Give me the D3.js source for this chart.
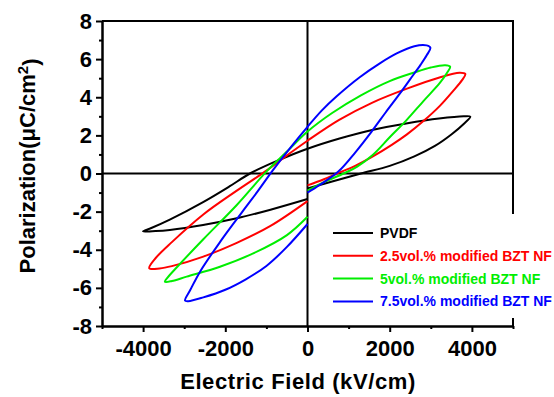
<!DOCTYPE html>
<html>
<head>
<meta charset="utf-8">
<script src="https://cdn.jsdelivr.net/npm/d3@7"></script>
<style>
  body { margin: 0; background: #fff; }
  svg { display: block; font-family: Arial, "Liberation Sans", sans-serif; }
  .tick text { font-weight: bold; font-size: 22px; fill: #000; }
  .axis path, .axis line { stroke: #000; stroke-width: 2px; }
  .title { font-weight: bold; font-size: 22px; fill: #000; }
  .legend text { font-weight: bold; font-size: 14px; }
</style>
</head>
<body>
<div id="chart"></div>
<script>
// axis ticks
const fieldTicks = [-4000, -2000, 0, 2000, 4000];
const fieldMinor = [-5000, -3000, -1000, 1000, 3000, 5000];
const polTicks = [-8, -6, -4, -2, 0, 2, 4, 6, 8];
const polMinor = [-7, -5, -3, -1, 1, 3, 5, 7];

// loops: [E (kV/cm), P (uC/cm2)]
// order: lower branch 0 -> +Emax, upper branch +Emax -> -Emax, lower branch -Emax -> 0
const pvdfLoop = [
  [0, -0.78], [600, -0.42], [1300, 0.0], [2000, 0.4], [2600, 0.9], [3100, 1.45], [3500, 2.05], [3800, 2.6], [3960, 2.98],
  [3800, 3.0], [3200, 2.88], [2400, 2.62], [1600, 2.3], [800, 1.85], [0, 1.3], [-700, 0.7], [-1400, 0.0],
  [-1900, -0.68], [-2540, -1.5], [-3350, -2.42], [-3800, -2.86], [-4000, -3.03],
  [-3700, -3.02], [-3350, -2.96], [-2540, -2.7], [-1720, -2.35], [-900, -1.9], [0, -1.34]
];
const bzt25Loop = [
  [0, -0.62], [400, -0.3], [720, 0], [1160, 0.4], [1580, 0.88], [2050, 1.5], [2420, 2.05], [2820, 2.75], [3220, 3.55], [3550, 4.35], [3760, 4.9], [3840, 5.22],
  [3700, 5.28], [3230, 5.05], [2420, 4.45], [1580, 3.72], [770, 2.81], [0, 1.72], [-500, 0.95], [-1000, 0.15],
  [-1720, -0.9], [-2535, -2.15], [-3300, -3.6], [-3720, -4.5], [-3850, -4.97],
  [-3600, -4.98], [-3300, -4.86], [-2535, -4.36], [-1720, -3.64], [-900, -2.75], [0, -1.45]
];
const bzt5Loop = [
  [0, -0.9], [400, -0.45], [880, 0], [1200, 0.35], [1600, 1.0], [2000, 1.9], [2410, 2.8], [2820, 3.8], [3220, 4.75], [3400, 5.3], [3470, 5.6],
  [3350, 5.68], [3000, 5.56], [2600, 5.3], [2000, 4.85], [1300, 4.1], [590, 3.16], [0, 2.2], [-500, 1.15], [-1000, 0.1],
  [-1720, -1.65], [-2535, -3.45], [-3150, -4.85], [-3400, -5.45], [-3470, -5.68],
  [-3300, -5.64], [-2940, -5.41], [-2130, -4.89], [-1320, -4.19], [-500, -3.23], [0, -2.27]
];
const bzt75Loop = [
  [0, -1.0], [300, -0.6], [750, 0.1], [1160, 1.1], [1560, 2.2], [1900, 3.2], [2250, 4.2], [2500, 4.95], [2750, 5.7], [2900, 6.2], [2990, 6.6],
  [2900, 6.72], [2600, 6.68], [2170, 6.3], [1760, 5.78], [1270, 5.05], [710, 4.05], [345, 3.3], [0, 2.45], [-400, 1.4], [-850, 0.15],
  [-1200, -0.9], [-1600, -2.05], [-2130, -3.6], [-2600, -5.1], [-2850, -6.1], [-2980, -6.67],
  [-2900, -6.7], [-2535, -6.5], [-2000, -6.1], [-1500, -5.55], [-1000, -4.85], [-500, -3.85], [0, -2.65]
];

const seriesNames = ["PVDF", "2.5vol.% modified BZT NF", "5vol.% modified BZT NF", "7.5vol.% modified BZT NF"];
const seriesColors = ["#000000", "#ff0000", "#00ee00", "#0000ff"];
const seriesLoops = [pvdfLoop, bzt25Loop, bzt5Loop, bzt75Loop];

const width = 554, height = 397;
const margin = {top: 21, right: 41, bottom: 71, left: 102};
const w = width - margin.left - margin.right;
const h = height - margin.top - margin.bottom;

const svg = d3.select("#chart").append("svg")
    .attr("width", width)
    .attr("height", height);
const g = svg.append("g").attr("transform", `translate(${margin.left},${margin.top})`);

const x = d3.scaleLinear().domain([-5000, 5000]).range([0, w]);
const y = d3.scaleLinear().domain([-8, 8]).range([h, 0]);

// zero lines
g.append("line").attr("x1", 0).attr("x2", w).attr("y1", y(0)).attr("y2", y(0))
    .attr("stroke", "#000").attr("stroke-width", 2);
g.append("line").attr("x1", x(0)).attr("x2", x(0)).attr("y1", 0).attr("y2", h)
    .attr("stroke", "#000").attr("stroke-width", 2);

// loops
const line = d3.line()
    .x(d => x(d[0]))
    .y(d => y(d[1]))
    .curve(d3.curveCatmullRom.alpha(0.5));

seriesLoops.forEach((loop, i) => {
    g.append("path")
        .datum(loop)
        .attr("d", line)
        .attr("fill", "none")
        .attr("stroke", seriesColors[i])
        .attr("stroke-width", 2);
});

// frame: top and right
g.append("path")
    .attr("d", `M0,0H${w}V${h}`)
    .attr("fill", "none").attr("stroke", "#000").attr("stroke-width", 2);

// axes (plain hyphen, no thousands separator)
const plain = d => String(d);
g.append("g").attr("class", "axis")
    .attr("transform", `translate(0,${h})`)
    .call(d3.axisBottom(x).tickValues(fieldTicks).tickSize(6).tickSizeOuter(0).tickPadding(8).tickFormat(plain));
g.append("g").attr("class", "axis")
    .attr("transform", `translate(0,${h})`)
    .call(d3.axisBottom(x).tickValues(fieldMinor).tickSize(3).tickSizeOuter(0).tickFormat(""));
g.append("g").attr("class", "axis")
    .call(d3.axisLeft(y).tickValues(polTicks).tickSize(6).tickSizeOuter(0).tickPadding(4).tickFormat(plain));
g.append("g").attr("class", "axis")
    .call(d3.axisLeft(y).tickValues(polMinor).tickSize(3).tickSizeOuter(0).tickFormat(""));

// legend
const legend = g.append("g").attr("class", "legend");
legend.append("rect")
    .attr("x", 222).attr("y", 193).attr("width", 240).attr("height", 104)
    .attr("fill", "#fff");
seriesNames.forEach((name, i) => {
    const ly = 212 + i * 22.8;
    legend.append("line")
        .attr("x1", 231).attr("x2", 271).attr("y1", ly).attr("y2", ly)
        .attr("stroke", seriesColors[i]).attr("stroke-width", 2);
    legend.append("text")
        .attr("x", 278).attr("y", ly).attr("dy", "0.36em")
        .attr("fill", seriesColors[i])
        .text(name);
});

// axis titles
svg.append("text").attr("class", "title")
    .attr("x", 298).attr("y", 389)
    .attr("text-anchor", "middle")
    .attr("letter-spacing", "0.6px")
    .text("Electric Field (kV/cm)");

const yt = svg.append("text").attr("class", "title")
    .attr("transform", "translate(35,166) rotate(-90)")
    .attr("text-anchor", "middle");
yt.append("tspan").text("Polarization(\u03bcC/cm");
yt.append("tspan").attr("dy", "-0.45em").attr("font-size", "15px").text("2");
yt.append("tspan").attr("dy", "0.45em").text(")");
</script>
</body>
</html>
